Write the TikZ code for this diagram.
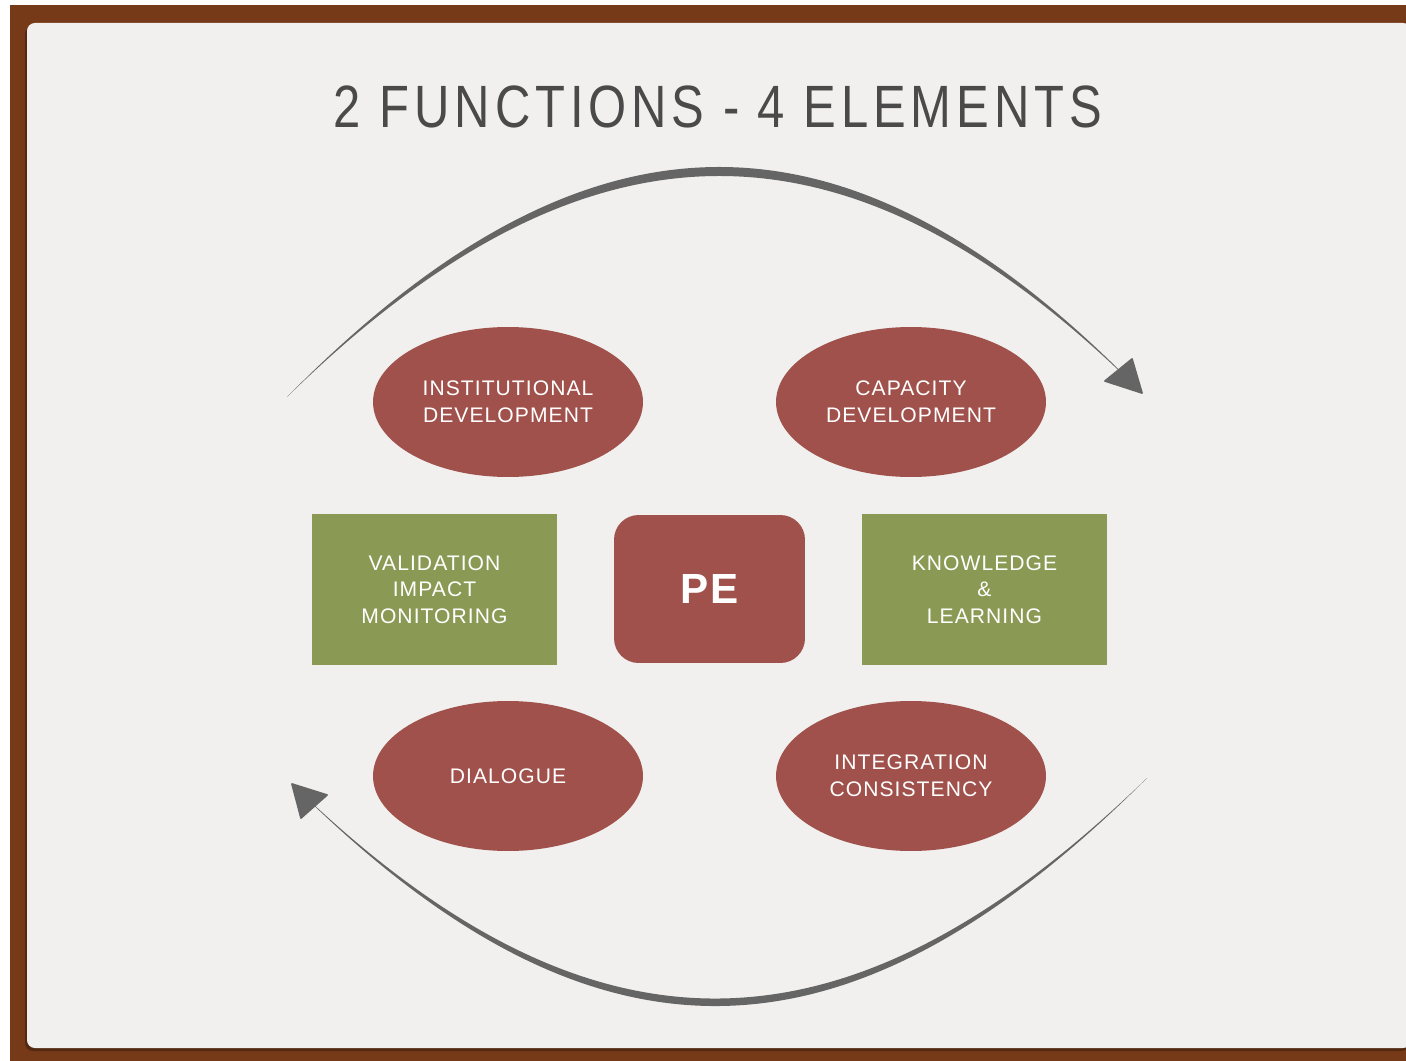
\documentclass[tikz,border=0pt]{standalone}
\usepackage{fontspec}
\usepackage{graphicx}
\usepackage{tikz}
\usetikzlibrary{shapes.geometric}
\newfontfamily\slidefont[LetterSpace=5]{Liberation Sans}
\newfontfamily\headfont[LetterSpace=10]{Liberation Sans}
\newfontfamily\corefont[LetterSpace=3]{Liberation Sans}
\definecolor{woodframe}{HTML}{763A18}
\definecolor{paper}{HTML}{F1F0EE}
\definecolor{brick}{HTML}{A0514B}
\definecolor{olive}{HTML}{8A9A54}
\definecolor{ink}{HTML}{4A4A4A}
\definecolor{pencil}{HTML}{656565}
\tikzset{
    element/.style={shape=ellipse, fill=brick, text=white, inner sep=0pt,
        minimum width=5.4cm, minimum height=3cm, align=center,
        font=\slidefont\fontsize{12}{15.5}\selectfont},
    function/.style={shape=rectangle, fill=olive, text=white, inner sep=0pt,
        minimum width=4.9cm, minimum height=3.02cm, align=center,
        font=\slidefont\fontsize{12}{15}\selectfont},
    core/.style={shape=rectangle, rounded corners=14pt, fill=brick, text=white,
        inner sep=0pt, minimum width=3.82cm, minimum height=2.96cm,
        font=\corefont\bfseries\fontsize{24}{28}\selectfont},
    heading/.style={text=ink, inner sep=0pt, font=\headfont\fontsize{34}{40}\selectfont},
    tip/.style={fill=pencil, draw=pencil, line width=1pt, line join=round}
}
\begin{document}
\begin{tikzpicture}[x=0.02cm, y=-0.02cm]
    \useasboundingbox (0,0) rectangle (1406,1061);
    \fill[white] (0,0) rectangle (1406,1061);
    \fill[woodframe] (10,5) rectangle (1406,1061);
    \fill[woodframe!70!black, rounded corners=4.5pt] (25,26) rectangle (1409,1051);
    \fill[paper, rounded corners=4.5pt] (27,23) rectangle (1411,1048);

    \node[heading] (title) at (718,107) {\scalebox{0.82}[1]{2 FUNCTIONS - 4 ELEMENTS}};

    \node[element] (inst) at (508,402) {INSTITUTIONAL\\DEVELOPMENT};
    \node[element] (cap) at (911,402) {CAPACITY\\DEVELOPMENT};
    \node[function] (valid) at (434.5,589.5) {VALIDATION\\IMPACT\\MONITORING};
    \node[core] (pe) at (709.5,589) {PE};
    \node[function] (know) at (984.5,589.5) {KNOWLEDGE\\\&\\LEARNING};
    \node[element] (dial) at (508,776) {DIALOGUE};
    \node[element] (integ) at (911,776) {INTEGRATION\\CONSISTENCY};

    % brush strokes, thin at both ends
    \coordinate (topstart) at (287,397);
    \coordinate (toptip) at (1142,393);
    \coordinate (botstart) at (1147,778);
    \coordinate (bottip) at (292,784);
    \fill[pencil] (topstart) .. controls (587,92) and (849,90) .. (toptip)
        .. controls (849,102) and (587,104) .. (topstart) -- cycle;
    \fill[pencil] (botstart) .. controls (847,1078) and (592,1084) .. (bottip)
        .. controls (592,1074) and (847,1068) .. (botstart) -- cycle;
    \filldraw[tip] (toptip) -- (1105,381) -- (1132,359) -- cycle;
    \filldraw[tip] (bottip) -- (327,795) -- (301,818) -- cycle;
\end{tikzpicture}
\end{document}
